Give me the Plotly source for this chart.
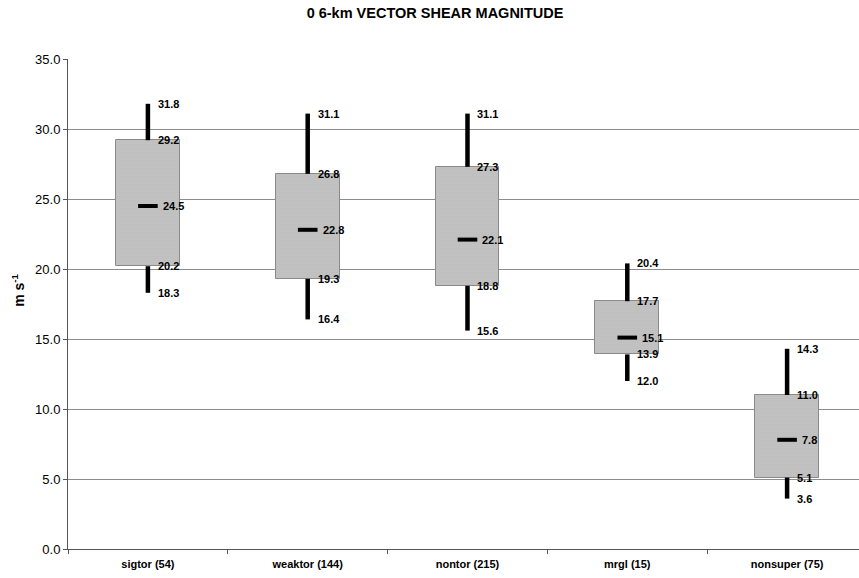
import plotly.graph_objects as go

categories = ["sigtor (54)", "weaktor (144)", "nontor (215)", "mrgl (15)", "nonsuper (75)"]
low = [18.3, 16.4, 15.6, 12.0, 3.6]
q1 = [20.2, 19.3, 18.8, 13.9, 5.1]
median = [24.5, 22.8, 22.1, 15.1, 7.8]
q3 = [29.2, 26.8, 27.3, 17.7, 11.0]
high = [31.8, 31.1, 31.1, 20.4, 14.3]
y_ticks = [0, 5, 10, 15, 20, 25, 30, 35]

FONT = "Liberation Sans, Arial, sans-serif"

fig = go.Figure()

# whiskers (two segments each, so the box hides the middle)
wx, wy = [], []
for c, lo, a, b, hi in zip(categories, low, q1, q3, high):
    wx += [c, c, None, c, c, None]
    wy += [lo, a, None, b, hi, None]
fig.add_trace(go.Scatter(x=wx, y=wy, mode="lines",
                         line=dict(color="black", width=4.5),
                         hoverinfo="skip", showlegend=False))

# boxes
fig.add_trace(go.Bar(
    x=categories, y=[b - a for a, b in zip(q1, q3)], base=q1, width=0.4,
    marker=dict(color="#c4c4c4", line=dict(color="#8a8a8a", width=1),
                pattern=dict(shape=".", fgcolor="#a8a8a8", bgcolor="#c8c8c8",
                             size=2, solidity=0.3, fillmode="replace")),
    showlegend=False, hoverinfo="skip"))

# medians
fig.add_trace(go.Scatter(x=categories, y=median, mode="markers",
                         marker=dict(symbol="line-ew-open", size=14, color="black",
                                     line=dict(color="black", width=4)),
                         showlegend=False, hoverinfo="skip"))

annotations = []
for c, vals in zip(categories, zip(low, q1, median, q3, high)):
    for k, v in enumerate(vals):
        annotations.append(dict(
            x=c, y=v, xref="x", yref="y", text=f"{v:.1f}", showarrow=False,
            xanchor="left", yanchor="middle", xshift=13 if k == 2 else 8,
            font=dict(family=FONT, size=11, color="black", weight="bold")))

annotations.append(dict(
    text="<b>m s<sup>-1</sup></b>", xref="paper", yref="paper", x=0, y=0.527,
    xshift=-50, xanchor="center", yanchor="middle", textangle=-90, showarrow=False,
    font=dict(family=FONT, size=14, color="black")))

fig.update_layout(
    width=859, height=578,
    margin=dict(l=68, r=0, t=59, b=29),
    paper_bgcolor="white", plot_bgcolor="white",
    bargap=0,
    title=dict(text="<b>0 6-km VECTOR SHEAR MAGNITUDE</b>", x=435 / 859, xanchor="center",
               y=1 - 13 / 578, yanchor="middle",
               font=dict(family=FONT, size=14.5, color="black")),
    font=dict(family=FONT, color="black"),
    annotations=annotations,
    xaxis=dict(type="category", range=[-0.5, 4.45], showgrid=False,
               showline=True, linecolor="#555", linewidth=1,
               ticks="outside", ticklen=4, tickcolor="#555", tickson="boundaries",
               ticklabelstandoff=5,
               tickfont=dict(family=FONT, size=11, color="black", weight="bold"),
               automargin=False, fixedrange=True),
    yaxis=dict(range=[0, 35], tickvals=y_ticks, tickformat=".1f",
               showgrid=True, gridcolor="#8c8c8c", gridwidth=1,
               showline=True, linecolor="#555", linewidth=1,
               ticks="outside", ticklen=4, tickcolor="#555",
               tickfont=dict(family=FONT, size=13, color="black"),
               automargin=False, zeroline=False),
)

fig.write_html("out.html", config={"displayModeBar": False},
               post_script="document.body.style.margin='0';")
